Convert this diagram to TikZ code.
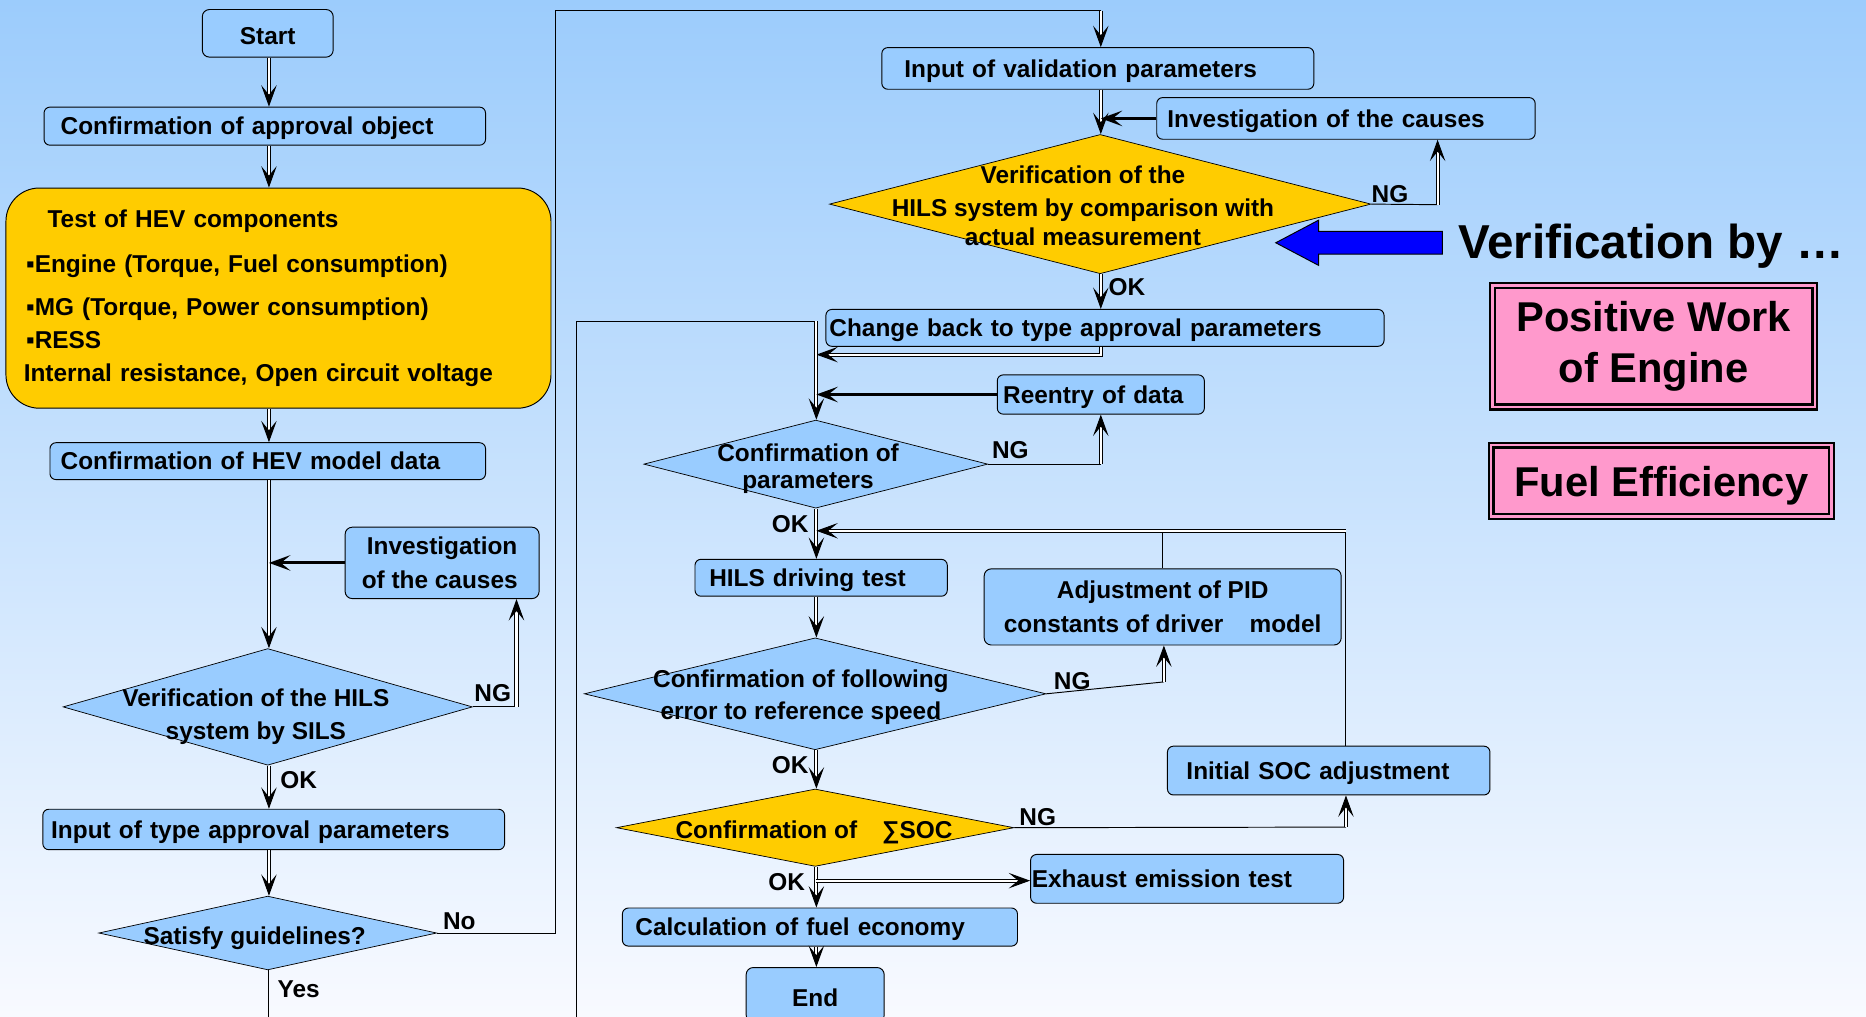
\documentclass[tikz,border=0pt]{standalone}
\usepackage{fontspec}
\setmainfont{Liberation Sans}
\usetikzlibrary{shapes.geometric,arrows.meta}
\definecolor{boxblue}{HTML}{99CCFF}
\definecolor{bgtop}{HTML}{9CCCFC}
\definecolor{bgbot}{HTML}{F8FAFF}
\definecolor{hevyellow}{HTML}{FFCC00}
\definecolor{pinkbox}{HTML}{FF99CC}
\definecolor{arrowblue}{HTML}{0000FF}
\begin{document}
\begin{tikzpicture}[x=1pt,y=-1pt,
  txt/.style={font=\bfseries\fontsize{20.5}{28}\selectfont},
  box/.style={txt, draw=black, line width=0.8pt, fill=boxblue, rounded corners=5pt, inner ysep=0pt, align=left, text height=19pt, text depth=4.5pt},
  cbox/.style={txt, draw=black, line width=0.8pt, fill=boxblue, rounded corners=6pt, inner sep=0pt, align=center},
  ybox/.style={txt, draw=black, line width=0.8pt, fill=hevyellow, rounded corners=28pt, inner ysep=0pt, align=left},
  dia/.style={diamond, draw=black, line width=0.6pt, fill=boxblue, inner sep=0pt},
  ydia/.style={dia, fill=hevyellow},
  dtext/.style={txt, align=center, inner sep=0pt},
  lab/.style={txt, inner sep=0pt, text height=14.7pt, text depth=0pt},
  pinkb/.style={draw=black, line width=2pt, double=pinkbox, double distance=2pt, fill=pinkbox, inner sep=0pt, align=center, font=\bfseries\fontsize{35}{43}\selectfont},
  arr/.style={draw=black, line width=0.8pt, double=white, double distance=1.8pt, -{Stealth[length=18pt,width=13pt,inset=8pt]}},
  sarr/.style={draw=black, line width=2.4pt, -{Stealth[length=18pt,width=13pt,inset=8pt]}},
  thinl/.style={draw=black, line width=0.8pt}
]
\useasboundingbox (0,0) rectangle (1568,854);
\clip (0,0) rectangle (1568,854);
\shade[top color=bgtop, bottom color=bgbot] (0,0) rectangle (1568,854);

% column reference coordinates
\coordinate (colL) at (226,0);
\coordinate (colM) at (686,0);
\coordinate (colT) at (925,0);

% ---------- left column ----------
\node[cbox, minimum width=110pt, minimum height=40pt, text height=18.7pt, text depth=0pt] (start) at (225,28) {Start};
\node[box, minimum width=371pt, minimum height=32pt, inner xsep=14pt, text width=343pt] (appr) at (222.5,106) {Confirmation of approval object};
\node[ybox, minimum width=458pt, minimum height=185pt, inner xsep=15pt, text width=428pt] (yel) at (234,250.5)
 {\hspace*{20pt}Test of HEV components\\[10pt]
  \hspace*{2pt}▪Engine (Torque, Fuel consumption)\\[8pt]
  \hspace*{2pt}▪MG (Torque, Power consumption)\\
  \hspace*{2pt}▪RESS\\
  Internal resistance, Open circuit voltage\\[-24pt]\mbox{}};
\node[box, minimum width=366pt, minimum height=31pt, inner xsep=9pt, text width=348pt] (hev) at (225,387.5) {Confirmation of HEV model data};
\node[cbox, minimum width=163pt, minimum height=60pt] (inv1) at (371.5,473) {Investigation\\of the causes\hspace*{4pt}};
\node[dia, minimum width=344pt, minimum height=98pt] (d1) at (225,594) {};
\node[dtext] (d1t) at (215,602) {Verification of the HILS\\system by SILS};
\node[box, minimum width=388pt, minimum height=34pt, inner xsep=7pt, text width=374pt] (tap) at (230,697) {Input of type approval parameters};
\node[dia, minimum width=284pt, minimum height=62pt] (d2) at (225,784) {};
\node[dtext, text height=17pt, text depth=4.5pt] (d2t) at (214,787) {Satisfy guidelines?};

% ---------- top-middle column ----------
\node[box, minimum width=363pt, minimum height=35pt, inner xsep=19pt, text width=325pt] (inval) at (922.5,57.5) {Input of validation parameters};
\node[box, minimum width=318pt, minimum height=35pt, inner xsep=9pt, text width=300pt] (inv2) at (1131,99.5) {Investigation of the causes};
\node[ydia, minimum width=455pt, minimum height=117pt] (d3) at (924.5,171.5) {};
\node[dtext] (d3t) at (910,173) {Verification of the\\HILS system by comparison with\\[-4pt]actual measurement};
\node[box, minimum width=469pt, minimum height=31pt, inner xsep=3pt, text width=463pt] (cb) at (928.5,275.5) {Change back to type approval parameters};
\node[box, minimum width=174pt, minimum height=33pt, inner xsep=5pt, text width=164pt] (reen) at (925,331.5) {Reentry of data};
\node[dia, minimum width=289pt, minimum height=74pt] (d4) at (685.5,390) {};
\node[dtext] (d4t) at (679,394) {Confirmation of\\[-5pt]parameters};

% ---------- lower-middle column ----------
\node[box, minimum width=212pt, minimum height=31pt, inner xsep=12pt, text width=188pt] (hils) at (690,485.5) {HILS driving test};
\node[cbox, minimum width=300pt, minimum height=64pt] (adj) at (977,510) {Adjustment of PID\\constants of driver\hspace{22pt}model};
\node[dia, minimum width=388pt, minimum height=94pt] (d5) at (685,583) {};
\node[dtext] (d5t) at (673,586) {Confirmation of following\\[-1pt]error to reference speed};
\node[ydia, minimum width=334pt, minimum height=65pt] (d6) at (685,695.5) {};
\node[dtext, text height=17pt, text depth=4.5pt] (d6t) at (684,698) {Confirmation of\hspace{21pt}∑SOC};
\node[box, minimum width=271pt, minimum height=41pt, inner xsep=16pt, text width=239pt] (init) at (1116.5,647.5) {Initial SOC adjustment};
\node[box, minimum width=263pt, minimum height=41pt, inner xsep=1pt, text width=261pt] (exh) at (997.5,738.5) {Exhaust emission test};
\node[box, minimum width=332pt, minimum height=32pt, inner xsep=11pt, text width=310pt] (calc) at (689,779) {Calculation of fuel economy};
\node[cbox, minimum width=116pt, minimum height=46pt, text height=18.7pt, text depth=0pt] (endn) at (685,836) {End};

% ---------- right side ----------
\node[anchor=west, inner sep=0pt, font=\bfseries\fontsize{40}{48}\selectfont, text height=28.6pt, text depth=0pt] (vby) at (1225,203) {Verification by …};
\node[pinkb, minimum width=271pt, minimum height=102pt] (pw) at (1389.5,291) {Positive Work\\of Engine};
\node[pinkb, minimum width=286pt, minimum height=60pt, text height=26pt, text depth=0pt] (fe) at (1396,404) {Fuel Efficiency};
\filldraw[fill=arrowblue, draw=black, line width=0.8pt]
  (vby.west) ++(-13,-8.5) -- (1108,194.5) -- (1108,185) -- (1072,204) -- (1108,223) -- (1108,213.5) -- (1212,213.5) -- cycle;

% ---------- labels ----------
\node[lab] (lng1) at (414,582) {NG};
\node[lab] (lok1) at (251,655) {OK};
\node[lab] (lno) at (386,774) {No};
\node[lab] (lyes) at (251,831) {Yes};
\node[lab] (lng2) at (1168,163) {NG};
\node[lab] (lok2) at (947,241) {OK};
\node[lab] (lng3) at (849,378) {NG};
\node[lab] (lok3) at (664,440) {OK};
\node[lab] (lng4) at (901,572) {NG};
\node[lab] (lok4) at (664,643) {OK};
\node[lab] (lng5) at (872,686) {NG};
\node[lab] (lok5) at (661,741) {OK};

% ---------- connectors: left column ----------
\draw[arr] (start.south -| colL) -- (appr.north -| colL);
\draw[arr] (appr.south -| colL) -- (yel.north -| colL);
\draw[arr] (yel.south -| colL) -- (hev.north -| colL);
\draw[arr] (hev.south -| colL) -- (d1.north -| colL);
\draw[sarr] (inv1.west) -- (inv1.west -| colL);
\coordinate (ng1c) at (434,594);
\draw[thinl] (d1.east) -- (ng1c);
\draw[arr] (ng1c) -- (ng1c |- inv1.south);
\draw[arr] (d1.south -| colL) -- (tap.north -| colL);
\draw[arr] (tap.south -| colL) -- (d2.north -| colL);
\coordinate (nocorner) at (467,9);
\draw[thinl] (d2.east) -| (nocorner) -- (nocorner -| colT);
\draw[arr] (nocorner -| colT) -- (inval.north -| colT);
\coordinate (yesend) at (226,870);
\draw[thinl] (d2.south -| colL) -- (yesend);

% ---------- connectors: top-middle ----------
\draw[arr] (inval.south -| colT) -- (d3.north -| colT);
\draw[sarr] (inv2.west) -- (inv2.west -| colT);
\coordinate (ng2c) at (1208,172);
\draw[thinl] (d3.east) -- (ng2c);
\draw[arr] (ng2c) -- (ng2c |- inv2.south);
\draw[arr] (d3.south -| colT) -- (cb.north -| colT);
\coordinate (cbm) at (686,298);
\draw[arr] (cb.south -| colT) |- (cbm);
\coordinate (loopb) at (484,870);
\coordinate (loopt) at (484,270);
\draw[thinl] (loopb) -- (loopt) -- (loopt -| colM);
\draw[arr] (loopt -| colM) -- (d4.north -| colM);
\draw[sarr] (reen.west) -- (reen.west -| colM);
\coordinate (ng3c) at (925,390);
\draw[thinl] (d4.east) -- (ng3c);
\draw[arr] (ng3c) -- (ng3c |- reen.south);

% ---------- connectors: lower-middle ----------
\draw[arr] (d4.south -| colM) -- (hils.north -| colM);
\coordinate (fbR) at (1131,446);
\draw[thinl] (init.north -| fbR) -- (fbR);
\draw[thinl] (adj.north) -- (adj.north |- fbR);
\draw[arr] (fbR) -- (fbR -| colM);
\draw[arr] (hils.south -| colM) -- (d5.north -| colM);
\coordinate (ng4c) at (978,573);
\draw[thinl] (d5.east) -- (ng4c);
\draw[arr] (ng4c) -- (ng4c |- adj.south);
\draw[arr] (d5.south -| colM) -- (d6.north -| colM);
\coordinate (ng5c) at (1131,695);
\draw[thinl] (d6.east) -- (ng5c);
\draw[arr] (ng5c) -- (ng5c |- init.south);
\draw[arr] (d6.south -| colM) -- (calc.north -| colM);
\coordinate (exs) at (686,740);
\draw[arr] (exs) -- (exs -| exh.west);
\draw[arr] (calc.south -| colM) -- (endn.north -| colM);
\end{tikzpicture}
\end{document}
